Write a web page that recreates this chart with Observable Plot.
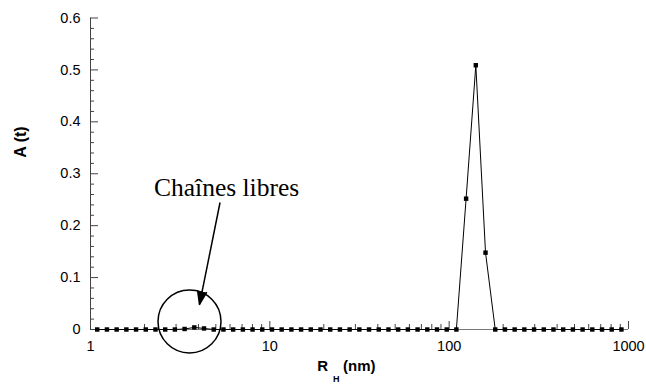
<!DOCTYPE html>
<html><head><meta charset="utf-8">
<script src="https://cdn.jsdelivr.net/npm/d3@7"></script>
<script src="https://cdn.jsdelivr.net/npm/@observablehq/plot@0.6"></script>
<style>body{margin:0;background:#fff}</style>
</head><body><div id="chart"></div>
<script>
// Hydrodynamic radius R_H (nm) of each point
const radius = [1.090, 1.235, 1.399, 1.585, 1.795, 2.033, 2.303, 2.609, 2.955, 3.348,
  3.792, 4.296, 4.866, 5.512, 6.244, 7.073, 8.012, 9.075, 10.28, 11.64,
  13.19, 14.94, 16.92, 19.17, 21.71, 24.59, 27.86, 31.55, 35.74, 40.49,
  45.86, 51.95, 58.85, 66.66, 75.51, 85.54, 96.90, 109.7, 124.3, 140.8,
  159.5, 180.7, 204.7, 231.8, 262.6, 297.4, 336.9, 381.6, 432.3, 489.7,
  554.6, 628.3, 711.7, 806.2, 913.3];
// Amplitude A(t)
const amplitude = [0, 0, 0, 0, 0, 0, 0, 0, 0, 0.001,
  0.004, 0.002, 0, 0, 0, 0, 0, 0, 0, 0,
  0, 0, 0, 0, 0, 0, 0, 0, 0, 0,
  0, 0, 0, 0, 0, 0, 0, 0, 0.252, 0.509,
  0.148, 0, 0, 0, 0, 0, 0, 0, 0, 0,
  0, 0, 0, 0, 0];

const xMajorTicks = [1, 10, 100, 1000];
const xMinorTicks = [2, 3, 4, 5, 6, 7, 8, 9, 20, 30, 40, 50, 60, 70, 80, 90,
  200, 300, 400, 500, 600, 700, 800, 900];
const yMajorTicks = [0, 0.1, 0.2, 0.3, 0.4, 0.5, 0.6];
const yMinorTicks = [0.02, 0.04, 0.06, 0.08, 0.12, 0.14, 0.16, 0.18, 0.22, 0.24, 0.26, 0.28,
  0.32, 0.34, 0.36, 0.38, 0.42, 0.44, 0.46, 0.48, 0.52, 0.54, 0.56, 0.58];

// Annotation (data units)
const noteLabel = [{text: "Chaînes libres", x: 2.26, y: 0.2725}];
const noteArrow = [{x1: 5.276, y1: 0.2446, x2: 4.054, y2: 0.0482}];
const noteCircle = [{x: 3.565, y: 0.0154}];

const data = radius.map((r, i) => ({r, a: amplitude[i]}));

const W = 646, H = 385, ML = 90, MR = 18, MT = 17.5, MB = 56;
const PW = W - ML - MR, PH = H - MT - MB;
const axisColor = "#444";

const chart = Plot.plot({
  width: W, height: H,
  marginLeft: ML, marginRight: MR, marginTop: MT, marginBottom: MB,
  style: {fontFamily: "'Liberation Sans', Arial, sans-serif", fontSize: "14.5px", background: "#fff", color: "#000"},
  x: {type: "log", domain: [1, 1000], axis: null},
  y: {domain: [0, 0.6], axis: null},
  marks: [
    // axis lines
    Plot.ruleX([1], {stroke: axisColor, strokeWidth: 1}),
    Plot.ruleY([0], {stroke: "#777", strokeWidth: 1}),
    // y ticks (inward)
    Plot.ruleY(yMajorTicks, {stroke: axisColor, insetRight: PW - 8}),
    Plot.ruleY(yMinorTicks, {stroke: axisColor, insetRight: PW - 4}),
    // x ticks (inward)
    Plot.ruleX(xMajorTicks, {stroke: axisColor, insetTop: PH - 8}),
    Plot.ruleX(xMinorTicks, {stroke: axisColor, insetTop: PH - 5}),
    // tick labels
    Plot.axisX(xMajorTicks, {tickSize: 0, tickPadding: 11, tickFormat: d => String(d), label: null, fontSize: 14.5}),
    Plot.axisY(yMajorTicks, {tickSize: 0, tickPadding: 10, tickFormat: d => String(d), label: null, fontSize: 14.5}),
    // axis titles
    Plot.text(["A (t)"], {text: d => d, frameAnchor: "left", dx: -70, dy: -16, rotate: -90, fontSize: 16, fontWeight: "bold"}),
    Plot.text(["R"], {text: d => d, frameAnchor: "bottom-left", dx: 226.7, dy: 41, textAnchor: "start", fontSize: 15, fontWeight: "bold"}),
    Plot.text(["H"], {text: d => d, frameAnchor: "bottom-left", dx: 242.5, dy: 52, textAnchor: "start", fontSize: 9, fontWeight: "bold"}),
    Plot.text(["(nm)"], {text: d => d, frameAnchor: "bottom-left", dx: 252.5, dy: 41, textAnchor: "start", fontSize: 15, fontWeight: "bold"}),
    // data
    Plot.line(data, {x: "r", y: "a", stroke: "#000", strokeWidth: 1}),
    Plot.dot(data, {x: "r", y: "a", symbol: "square", r: 2.5, fill: "#000", stroke: "none"}),
    // annotation
    Plot.dot(noteCircle, {x: "x", y: "y", r: 31.5, fill: "none", stroke: "#000", strokeWidth: 1.5}),
    Plot.link(noteArrow, {x1: "x1", y1: "y1", x2: "x2", y2: "y2", stroke: "#000", strokeWidth: 1.5}),
    Plot.vector(noteArrow, {x: "x2", y: "y2", length: 13, rotate: 191.4, anchor: "end", shape: "spike", r: 4.5, fill: "#000", stroke: "#000"}),
    Plot.text(noteLabel, {x: "x", y: "y", text: "text", textAnchor: "start", fontSize: 25.5, fontFamily: "'Liberation Serif', 'Times New Roman', serif", fill: "#000"})
  ]
});
document.getElementById("chart").appendChild(chart);
</script>
</body></html>
